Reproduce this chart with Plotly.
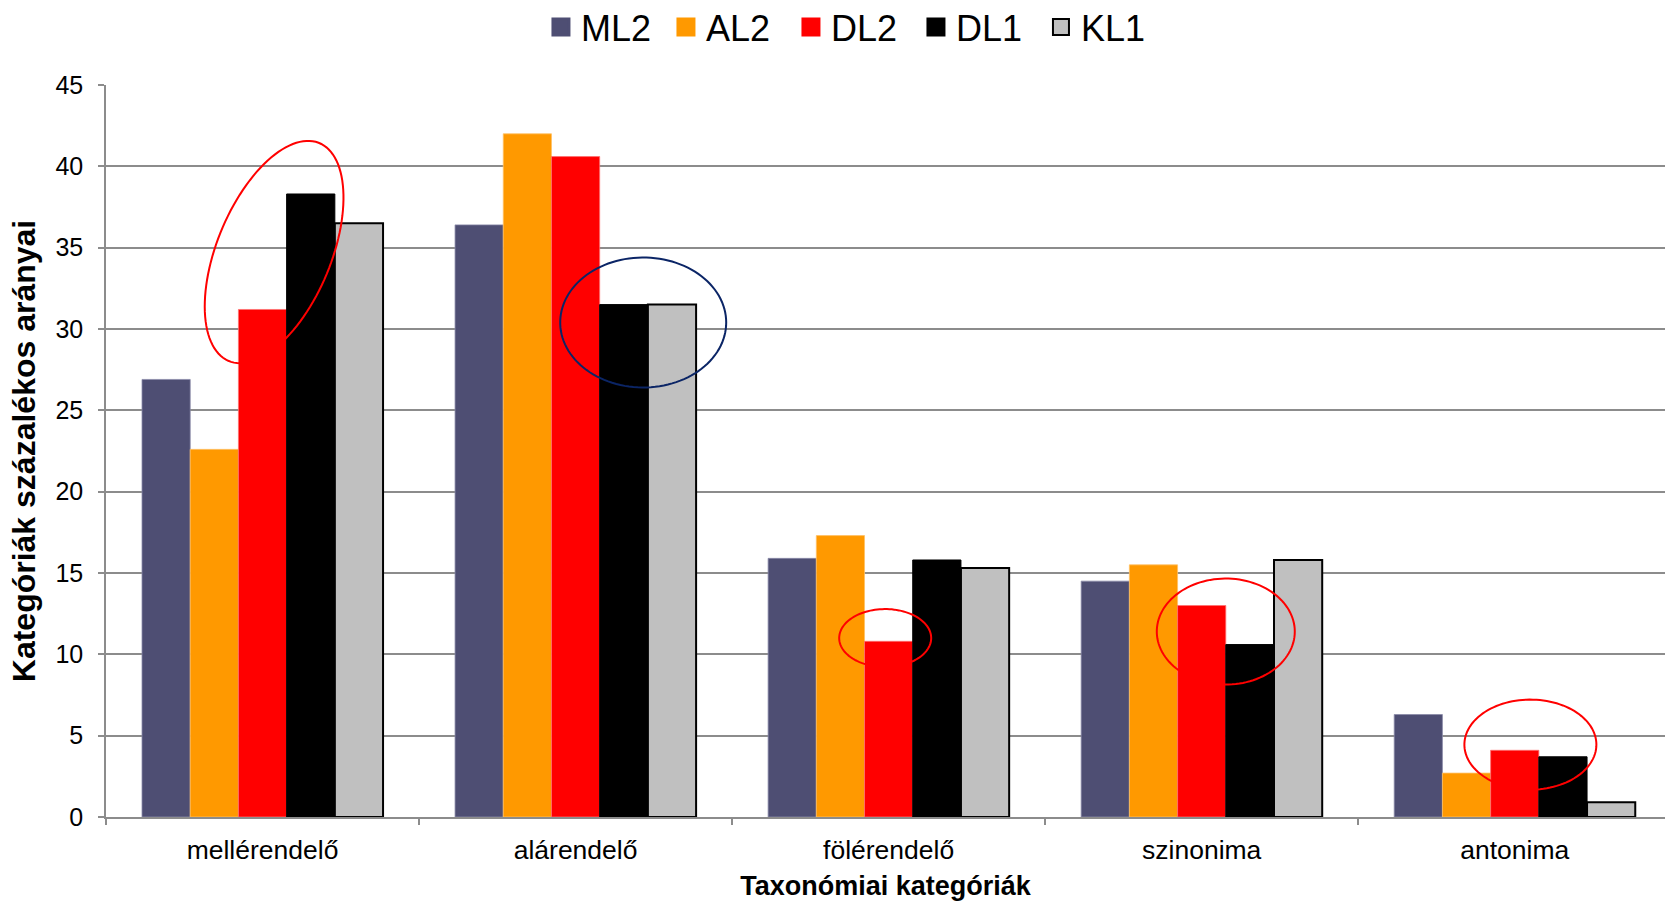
import numpy as np
import plotly.graph_objects as go

# Category labels and percentage shares per learner group
categories = ["mellérendelő", "alárendelő", "fölérendelő", "szinonima", "antonima"]
ml2 = [26.9, 36.4, 15.9, 14.5, 6.3]
al2 = [22.6, 42.0, 17.3, 15.5, 2.7]
dl2 = [31.2, 40.6, 10.8, 13.0, 4.1]
dl1 = [38.3, 31.5, 15.8, 10.6, 3.7]
kl1 = [36.5, 31.5, 15.3, 15.8, 0.9]

series_names = ["ML2", "AL2", "DL2", "DL1", "KL1"]
series_values = [ml2, al2, dl2, dl1, kl1]
fill_colors = ["#4e4e73", "#ff9900", "#ff0000", "#000000", "#c0c0c0"]
line_colors = ["#8a8aa8", "#ffc266", "#ff7070", "#000000", "#000000"]
line_widths = [0.8, 0.8, 0.8, 1.0, 2.0]

y_ticks = [0, 5, 10, 15, 20, 25, 30, 35, 40, 45]

# Figure geometry
W, H = 1665, 901
ML, MR, MT, MB = 106, 0, 85, 84
PLOT_W = W - ML - MR
PLOT_H = H - MT - MB
XMIN, XMAX = -0.5, 4.48
YMIN, YMAX = 0, 45

FONT = "Liberation Sans, Arial, sans-serif"

fig = go.Figure()

for name, vals, fc, lc, lw in zip(series_names, series_values, fill_colors, line_colors, line_widths):
    fig.add_trace(go.Bar(
        x=categories, y=vals, name=name,
        marker=dict(color=fc, line=dict(color=lc, width=lw)),
        showlegend=False,
    ))

# Square legend swatches (the marker outline enlarges the visible square)
for name, fc in zip(series_names, fill_colors):
    if name == "KL1":
        mline = dict(color="#000000", width=2)
    else:
        mline = dict(color=fc, width=3)
    fig.add_trace(go.Scatter(
        x=[None], y=[None], mode="markers", name=name,
        marker=dict(symbol="square", size=16, color=fc, line=mline),
        showlegend=True,
    ))


def to_paper(xd, yd):
    return (np.asarray(xd) - XMIN) / (XMAX - XMIN), (np.asarray(yd) - YMIN) / (YMAX - YMIN)


def ellipse_path(cx, cy, rx_px, ry_px, tilt_deg, n=120):
    """Ellipse centred at data (cx, cy); rx/ry are screen-pixel semi-axes
    before rotation, rotated clockwise by tilt_deg."""
    t = np.linspace(0, 2 * np.pi, n)
    phi = np.radians(tilt_deg)
    ex = rx_px * np.cos(t)
    ey = ry_px * np.sin(t)
    dx = ex * np.cos(phi) + ey * np.sin(phi)
    dy = -ex * np.sin(phi) + ey * np.cos(phi)
    xd = cx + dx * (XMAX - XMIN) / PLOT_W
    yd = cy + dy * (YMAX - YMIN) / PLOT_H
    xp, yp = to_paper(xd, yd)
    return "M" + " L".join(f"{x:.5f},{y:.5f}" for x, y in zip(xp, yp)) + " Z"


# Highlight rings: centre (category units, value), semi-axes in px, tilt, colour
rings = [
    (0.037, 34.73, 57, 118, 22.5, "#ff0000"),
    (1.216, 30.4, 83, 65, 0, "#0b2566"),
    (1.989, 11.0, 46, 29, 0, "#ff0000"),
    (3.077, 11.4, 69, 53, 0, "#ff0000"),
    (4.05, 4.45, 66, 45, 0, "#ff0000"),
]
shapes = [
    dict(type="path", path=ellipse_path(cx, cy, rx, ry, tilt), xref="paper", yref="paper",
         line=dict(color=col, width=2), fillcolor="rgba(0,0,0,0)", layer="above")
    for cx, cy, rx, ry, tilt, col in rings
]

fig.update_layout(
    width=W, height=H,
    margin=dict(l=ML, r=MR, t=MT, b=MB, pad=0, autoexpand=False),
    paper_bgcolor="white", plot_bgcolor="white",
    barmode="group", bargap=0.23, bargroupgap=0,
    font=dict(family=FONT, color="#000000"),
    showlegend=True,
    legend=dict(orientation="h", x=0.279, xanchor="left",
                yref="container", y=1.0 - 27 / H, yanchor="middle",
                font=dict(family=FONT, size=36, color="#000000"),
                itemsizing="trace", entrywidth=80, entrywidthmode="pixels",
                tracegroupgap=0, bgcolor="rgba(0,0,0,0)"),
    shapes=shapes,
    xaxis=dict(
        type="category", range=[XMIN, XMAX],
        showline=True, linecolor="#8c8c8c", linewidth=1.5,
        ticks="outside", tickson="boundaries", ticklen=6, tickcolor="#8c8c8c", tickwidth=1.5,
        showgrid=False,
        tickfont=dict(size=26.5, family=FONT, color="#000000"),
        ticklabelstandoff=8,
        title=dict(text="<b>Taxonómiai kategóriák</b>", font=dict(size=27, family=FONT), standoff=14),
        automargin=False,
    ),
    yaxis=dict(
        range=[YMIN, YMAX], tickvals=y_ticks,
        showline=True, linecolor="#8c8c8c", linewidth=1.5,
        ticks="outside", ticklen=6, tickcolor="#8c8c8c", tickwidth=1.5,
        showgrid=True, gridcolor="#8c8c8c", gridwidth=1.5,
        zeroline=False,
        tickfont=dict(size=25, family=FONT, color="#000000"),
        ticklabelstandoff=10,
        title=dict(text="<b>Kategóriák százalékos arányai</b>", font=dict(size=32, family=FONT), standoff=10),
        automargin=False,
    ),
)

fig.write_html("out.html")
